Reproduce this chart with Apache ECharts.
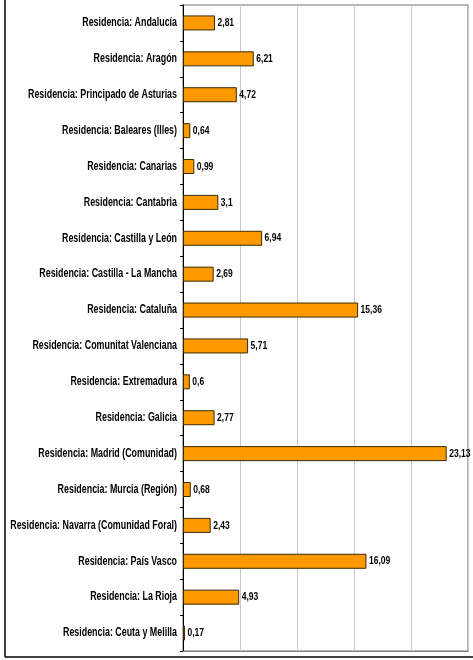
<!DOCTYPE html>
<html>
<head>
<meta charset="utf-8">
<script src="https://cdn.jsdelivr.net/npm/echarts@6/dist/echarts.min.js"></script>
<style>html,body{margin:0;padding:0;background:#fff}#c{width:473px;height:660px}</style>
</head>
<body>
<div id="c"></div>
<script>
var categories = [
  "Residencia: Andalucía",
  "Residencia: Aragón",
  "Residencia: Principado de Asturias",
  "Residencia: Baleares (Illes)",
  "Residencia: Canarias",
  "Residencia: Cantabria",
  "Residencia: Castilla y León",
  "Residencia: Castilla - La Mancha",
  "Residencia: Cataluña",
  "Residencia: Comunitat Valenciana",
  "Residencia: Extremadura",
  "Residencia: Galicia",
  "Residencia: Madrid (Comunidad)",
  "Residencia: Murcia (Región)",
  "Residencia: Navarra (Comunidad Foral)",
  "Residencia: País Vasco",
  "Residencia: La Rioja",
  "Residencia: Ceuta y Melilla"
];
var values = [2.81, 6.21, 4.72, 0.64, 0.99, 3.1, 6.94, 2.69, 15.36, 5.71, 0.6, 2.77, 23.13, 0.68, 2.43, 16.09, 4.93, 0.17];

var FONT = '"Liberation Sans", Arial, sans-serif';
function fmt(v) { return String(v).replace('.', ','); }

var chart = echarts.init(document.getElementById('c'), null, {renderer: 'canvas'});
chart.setOption({
  animation: false,
  backgroundColor: '#fff',
  grid: {left: 183, right: 5, top: 5, bottom: 9, show: true, borderColor: '#a0a0a0', borderWidth: 1.5, containLabel: false, outerBoundsMode: 'none'},
  xAxis: {
    type: 'value', min: 0, max: 25, interval: 5,
    axisLabel: {show: false},
    axisTick: {show: false},
    axisLine: {show: true, lineStyle: {color: '#808080', width: 1}},
    splitLine: {show: true, lineStyle: {color: '#c8c8c8', width: 1}}
  },
  yAxis: {
    type: 'category', data: categories, inverse: true,
    axisLine: {show: true, lineStyle: {color: '#000', width: 1}},
    axisTick: {show: true, length: 3, lineStyle: {color: '#000'}},
    axisLabel: {show: false}
  },
  series: [
    {
      type: 'bar', data: values, barWidth: 15,
      itemStyle: {color: '#ff9900', borderColor: '#3a2a00', borderWidth: 1}
    },
    {
      type: 'custom', clip: false, silent: true,
      data: categories.map(function (c, i) { return [0, i]; }),
      renderItem: function (params, api) {
        var p = api.coord([0, api.value(1)]);
        return {
          type: 'text', x: p[0] - 6, y: p[1], scaleX: 0.74,
          style: {text: categories[params.dataIndex], x: 0, y: 0, align: 'right', verticalAlign: 'middle',
                  font: 'bold 12px ' + FONT, fill: '#000'}
        };
      }
    },
    {
      type: 'custom', clip: false, silent: true,
      data: values.map(function (v, i) { return [v, i]; }),
      renderItem: function (params, api) {
        var p = api.coord([api.value(0), api.value(1)]);
        return {
          type: 'text', x: p[0] + 2.5, y: p[1], scaleX: 0.74,
          style: {text: fmt(values[params.dataIndex]), x: 0, y: 0, align: 'left', verticalAlign: 'middle',
                  font: 'bold 11.5px ' + FONT, fill: '#000'}
        };
      }
    }
  ],
  graphic: [
    {type: 'line', shape: {x1: 5, y1: 0, x2: 5, y2: 657}, style: {stroke: '#000', lineWidth: 1.5}},
    {type: 'line', shape: {x1: 5, y1: 657, x2: 473, y2: 657}, style: {stroke: '#000', lineWidth: 1.5}}
  ]
});
</script>
</body>
</html>
